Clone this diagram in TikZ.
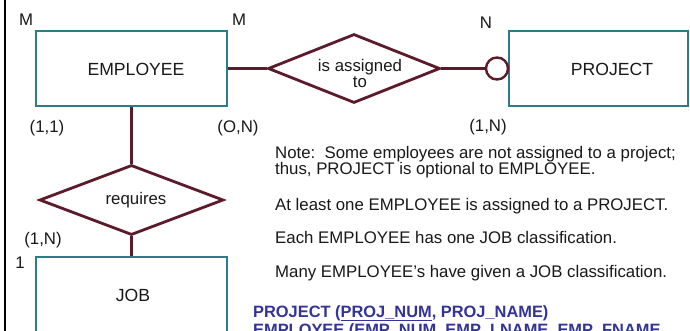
\documentclass[tikz,border=0pt]{standalone}
\usepackage{fontspec}
\setmainfont{Liberation Sans}
\usetikzlibrary{shapes.geometric}
\definecolor{entteal}{RGB}{46,124,134}
\definecolor{relmaroon}{RGB}{92,27,43}
\definecolor{relblue}{RGB}{51,51,154}
\definecolor{inkblack}{RGB}{25,25,25}
\tikzset{
  entity/.style={draw=entteal, line width=2.6pt, rectangle, inner sep=0pt},
  relation/.style={draw=relmaroon, line width=2.8pt, diamond, inner sep=0pt},
  optcircle/.style={draw=relmaroon, line width=2.4pt, circle, fill=white, inner sep=0pt, minimum size=22pt},
  conn/.style={draw=relmaroon, line width=2.8pt},
  lbl/.style={font=\fontsize{16.8}{15}\selectfont, text=inkblack, inner sep=0pt},
  entlbl/.style={font=\fontsize{17.6}{15}\selectfont, text=inkblack, inner sep=0pt},
  notetext/.style={font=\fontsize{16.8}{15}\selectfont, text=inkblack, inner sep=0pt, anchor=base west},
  schema/.style={font=\bfseries\fontsize{16.4}{15}\selectfont, text=relblue, inner sep=0pt, anchor=base west},
}
\begin{document}
\begin{tikzpicture}[x=1pt, y=-1pt]
\useasboundingbox (0,0) rectangle (690,331);
\clip (0,0) rectangle (690,331);
\fill[white] (0,0) rectangle (690,331);
% left border line
\draw[line width=2pt, black] (5,0) -- (5,331);

% entities
\node[entity, minimum width=191pt, minimum height=75pt] (emp) at (131.5,68.5) {};
\node[entlbl] (emptxt) at (136,69) {EMPLOYEE};
\node[entity, minimum width=179pt, minimum height=75pt] (proj) at (598.5,68.5) {};
\node[entlbl] (projtxt) at (612,69) {PROJECT};
\node[entity, minimum width=191pt, minimum height=120pt] (job) at (131.5,317) {};
\node[entlbl] (jobtxt) at (133,295) {JOB};

% relationships
\node[relation, minimum width=172pt, minimum height=69pt] (assign) at (354,68.5) {};
\node[lbl, align=center, font=\fontsize{16.8}{14}\selectfont] (assigntxt) at (360,73.5) {is assigned\\to};
\node[relation, minimum width=184pt, minimum height=70pt] (req) at (131.5,200) {};
\node[lbl] (reqtxt) at (136,200) {requires};

% optional circle
\node[optcircle] (opt) at (497,68.5) {};

% connectors
\draw[conn] (emp.east) -- (assign.west);
\draw[conn] (assign.east) -- (opt.west);
\draw[conn] (emp.south) -- (req.north);
\draw[conn] (req.south) -- (job.north);

% cardinalities
\node[lbl] (m1) at (26,20) {M};
\node[lbl] (m2) at (239,20) {M};
\node[lbl] (n1) at (486,23) {N};
\node[lbl] (c11) at (47,128) {(1,1)};
\node[lbl] (c0n) at (238,128) {(O,N)};
\node[lbl] (c1n) at (488,127) {(1,N)};
\node[lbl] (c1nb) at (43,240) {(1,N)};
\node[lbl] (one) at (20,263) {1};

% notes
\node[notetext, align=left] (note1) at (275,175) {Note:\ \ Some employees are not assigned to a project;\\thus, PROJECT is optional to EMPLOYEE.};
\node[notetext] (note3) at (275,210) {At least one EMPLOYEE is assigned to a PROJECT.};
\node[notetext] (note4) at (275,243) {Each EMPLOYEE has one JOB classification.};
\node[notetext] (note5) at (275,277) {Many EMPLOYEE's have given a JOB classification.};

% schema
\node[schema] (sch1) at (253,317) {PROJECT (\underline{PROJ\_NUM}, PROJ\_NAME)};
\node[schema] (sch2) at (253,335) {EMPLOYEE (\underline{EMP\_NUM}, EMP\_LNAME, EMP\_FNAME};
\end{tikzpicture}
\end{document}
